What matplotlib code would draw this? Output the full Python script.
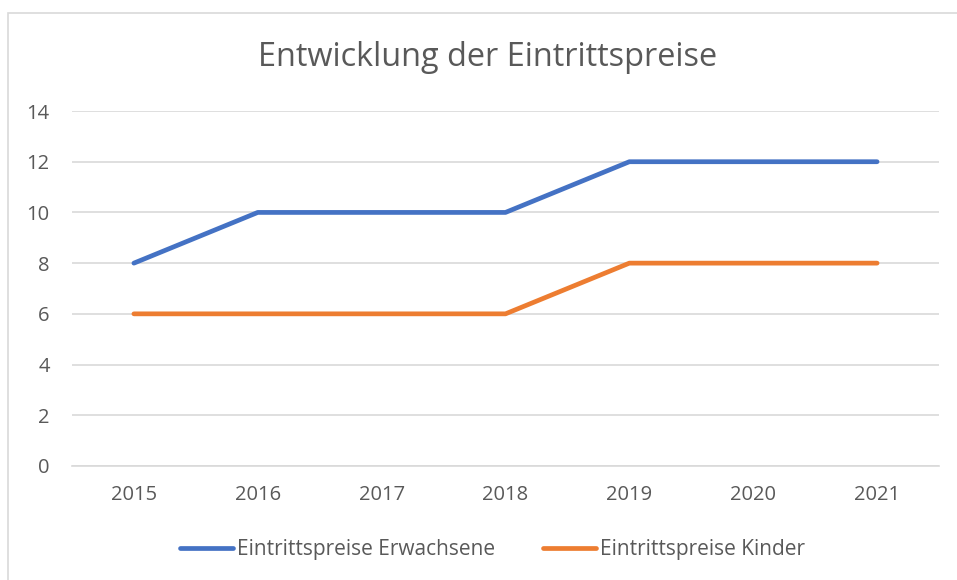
import matplotlib
matplotlib.use("Agg")
import matplotlib.pyplot as plt
from matplotlib.patches import Rectangle

years = ["2015", "2016", "2017", "2018", "2019", "2020", "2021"]
adults = [8, 10, 10, 10, 12, 12, 12]
kids = [6, 6, 6, 6, 8, 8, 8]

plt.rcParams['font.family'] = ['Open Sans', 'DejaVu Sans']
text_gray = '#595959'
grid_gray = '#d9d9d9'

fig = plt.figure(figsize=(9.57, 5.8), dpi=100)
fig.patches.append(Rectangle((8 / 957, -0.1), 1.2, 1 - 13 / 580 + 0.1,
                             transform=fig.transFigure, fill=False,
                             edgecolor=grid_gray, linewidth=1.2))

ax = fig.add_axes([0.0752, 0.1966, 0.906, 0.612])
x = range(len(years))
ax.plot(x, adults, color='#4472C4', linewidth=3.4, solid_capstyle='round',
        solid_joinstyle='round', label='Eintrittspreise Erwachsene', zorder=3)
ax.plot(x, kids, color='#ED7D31', linewidth=3.4, solid_capstyle='round',
        solid_joinstyle='round', label='Eintrittspreise Kinder', zorder=3)

ax.set_xlim(-0.5, len(years) - 0.5)
ax.set_ylim(0, 14)
ax.set_yticks(range(0, 15, 2))
ax.set_xticks(list(x))
ax.set_xticklabels(years)
ax.yaxis.grid(True, color=grid_gray, linewidth=1.2)
ax.set_axisbelow(True)
for s in ['top', 'right', 'left']:
    ax.spines[s].set_visible(False)
ax.spines['bottom'].set_color(grid_gray)
ax.spines['bottom'].set_linewidth(1.2)
ax.tick_params(length=0, labelsize=14.5, colors=text_gray)
ax.tick_params(axis='x', pad=14)
ax.tick_params(axis='y', pad=16)

fig.text(488 / 957, 1 - 57 / 580, "Entwicklung der Eintrittspreise",
         ha='center', va='center', fontsize=23.4, color=text_gray)

fig.legend(loc='center', bbox_to_anchor=(0.5 + 14 / 957, 1 - 550 / 580), ncol=2,
           frameon=False, fontsize=15, labelcolor=text_gray,
           handlelength=2.55, handletextpad=0.2, columnspacing=2.3)

fig.savefig("out.png", dpi=100)
